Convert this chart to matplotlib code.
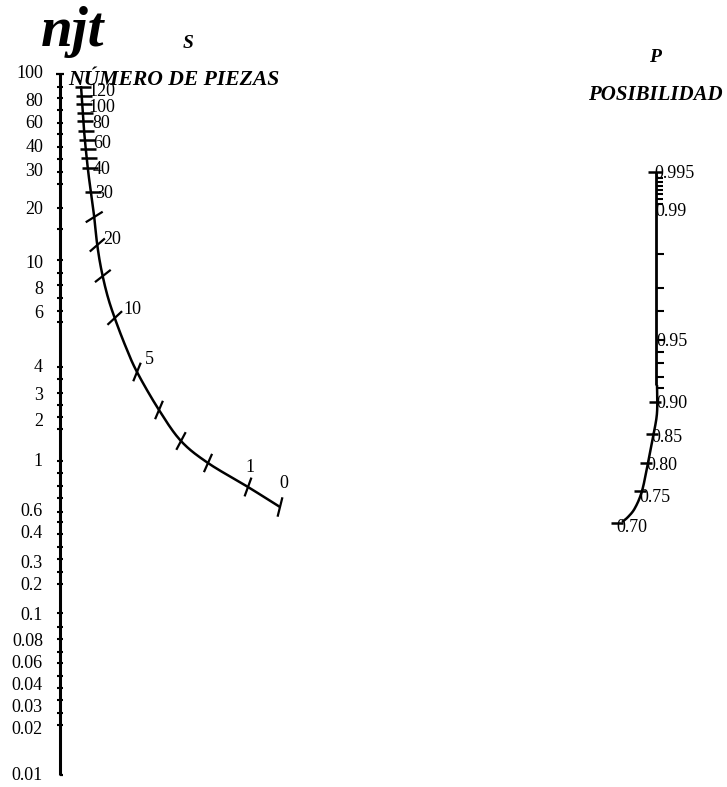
import numpy as np
import matplotlib
matplotlib.use('Agg')
import matplotlib.pyplot as plt

plt.rcParams['font.family'] = ['Liberation Serif', 'DejaVu Serif']

# eje izquierdo njt (escala log)
njt_labels = ['100', '80', '60', '40', '30', '20', '10', '8', '6', '4', '3', '2', '1',
              '0.6', '0.4', '0.3', '0.2', '0.1', '0.08', '0.06', '0.04', '0.03', '0.02', '0.01']
njt_label_y = [74, 102, 124, 148, 171, 210, 263, 289, 314, 367, 395, 422, 461,
               512, 534, 563, 586, 616, 641, 663, 685, 708, 730, 775]
njt_tick_y = [87, 98, 110, 123, 134, 147, 159, 172, 184, 208, 229, 260, 273, 285, 298,
              311, 322, 367, 379, 393, 405, 417, 429, 461, 473, 486, 498, 512, 522, 534,
              547, 559, 572, 584, 613, 627, 639, 652, 663, 676, 688, 700, 713, 725]

# curva S (numero de piezas)
s_curve_x = [81, 84, 88, 91, 94, 97, 101, 107, 114, 125, 137, 159, 181, 208, 248, 280]
s_curve_y = [86, 130, 170, 192, 215, 243, 268, 294, 316, 345, 372, 410, 441, 463, 487, 507]
s_flat_tick_y = [87, 96, 104, 113, 121, 131, 140, 149, 158, 168, 192]
s_tick_y = [217, 245, 276, 318, 372, 410, 441, 463, 487, 507]
s_tick_ang = [32, 41, 38, 43, 68, 67, 62, 66, 70, 76]
s_labels = ['120', '100', '80', '60', '40', '30', '20', '10', '5', '1', '0']
s_label_x = [88, 88, 92, 93, 93, 95, 103, 123, 145, 245, 279]
s_label_y = [91, 108, 124, 143, 170, 194, 239, 310, 359, 467, 483]

# curva P (posibilidad)
p_axis_x = 656
p_axis_top, p_axis_bot = 172, 385
p_curve_x = [657, 657, 653, 648, 642, 635, 628, 622]
p_curve_y = [385, 413, 437, 463, 491, 508, 517, 522]
p_small_tick_y = [178, 182, 186, 190, 194, 199, 204]
p_tick_y = [254, 288, 311, 340, 352, 363, 377, 388]
p_curve_tick_y = [402, 434, 463, 491]
p_labels = ['0.995', '0.99', '0.95', '0.90', '0.85', '0.80', '0.75', '0.70']
p_label_x = [654, 655, 656, 656, 651, 646, 639, 616]
p_label_y = [173, 212, 341, 404, 438, 466, 497, 528]


def suave(xs, ys, n=20):
    # Catmull-Rom por los puntos leidos, solo para dibujar la curva lisa
    p = np.column_stack([xs, ys]).astype(float)
    p = np.vstack([p[0], p, p[-1]])
    t = np.linspace(0, 1, n, endpoint=False)[:, None]
    out = []
    for i in range(1, len(p) - 2):
        p0, p1, p2, p3 = p[i - 1], p[i], p[i + 1], p[i + 2]
        out.append(0.5 * (2 * p1 + (-p0 + p2) * t + (2 * p0 - 5 * p1 + 4 * p2 - p3) * t ** 2
                          + (-p0 + 3 * p1 - 3 * p2 + p3) * t ** 3))
    out.append(p[-2][None, :])
    out = np.vstack(out)
    return out[:, 0], out[:, 1]


fig = plt.figure(figsize=(7.27, 7.87), dpi=100)
ax = fig.add_axes([0, 0, 1, 1])
ax.set_xlim(0, 727)
ax.set_ylim(787, 0)
ax.axis('off')

k = dict(color='black', solid_capstyle='butt')

# eje njt
ax.plot([60, 60], [74, 775], lw=2.2, **k)
ax.plot([56, 64], [74, 74], lw=1.6, **k)
ax.plot([60, 63], [775, 775], lw=1.6, **k)
for y in njt_tick_y:
    ax.plot([57, 63], [y, y], lw=1.5, **k)
for t, y in zip(njt_labels, njt_label_y):
    ax.text(43, y, t, ha='right', va='center', fontsize=13)

# curva S
sx, sy = suave(s_curve_x, s_curve_y)
ax.plot(sx, sy, lw=1.8, **k)
for y in s_flat_tick_y:
    x = np.interp(y, s_curve_y, s_curve_x)
    ax.plot([x - 6, x + 10], [y, y], lw=1.8, **k)
for y, a in zip(s_tick_y, s_tick_ang):
    x = np.interp(y, s_curve_y, s_curve_x)
    dx = 10 * np.cos(np.radians(a))
    dy = 10 * np.sin(np.radians(a))
    ax.plot([x - dx, x + dx], [y + dy, y - dy], lw=1.6, **k)
for t, x, y in zip(s_labels, s_label_x, s_label_y):
    ax.text(x, y, t, ha='left', va='center', fontsize=13)

# curva P
ax.plot([p_axis_x, p_axis_x], [p_axis_top, p_axis_bot], lw=2.0, **k)
px, py = suave(p_curve_x, p_curve_y)
ax.plot(px, py, lw=1.8, **k)
ax.plot([648, 662], [p_axis_top, p_axis_top], lw=1.8, **k)
for y in p_small_tick_y:
    ax.plot([p_axis_x, p_axis_x + 7], [y, y], lw=1.5, **k)
for y in p_tick_y:
    ax.plot([p_axis_x, p_axis_x + 8], [y, y], lw=1.5, **k)
for y in p_curve_tick_y:
    x = np.interp(y, p_curve_y, p_curve_x)
    ax.plot([x - 8, x + 4], [y, y], lw=1.8, **k)
ax.plot([611, 623], [523, 523], lw=1.8, **k)
for t, x, y in zip(p_labels, p_label_x, p_label_y):
    ax.text(x, y, t, ha='left', va='center', fontsize=13)

# titulos
ax.text(73, 46, 'njt', ha='center', va='baseline', fontsize=41,
        fontweight='bold', fontstyle='italic')
ax.text(188, 44, 'S', ha='center', va='center', fontsize=14,
        fontweight='bold', fontstyle='italic')
ax.text(68, 80, 'NÚMERO DE PIEZAS', ha='left', va='center', fontsize=15.6,
        fontweight='bold', fontstyle='italic')
ax.text(655, 58, 'P', ha='center', va='center', fontsize=14,
        fontweight='bold', fontstyle='italic')
ax.text(655, 95, 'POSIBILIDAD', ha='center', va='center', fontsize=15,
        fontweight='bold', fontstyle='italic')

plt.savefig('out.png', dpi=100)
